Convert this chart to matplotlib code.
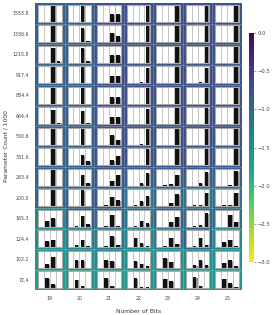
import numpy as np
import matplotlib
matplotlib.use("Agg")
import matplotlib.pyplot as plt
import matplotlib.patheffects as pe

bits = [19, 20, 21, 22, 23, 24, 25]
param_counts = ["1553.8", "1336.6", "1215.8", "917.4", "884.4", "664.4", "500.6",
                "381.6", "283.4", "200.0", "165.3", "124.4", "102.2", "72.4"]

# background value of each cell (rows top -> bottom, cols 19 -> 25)
log_err = [
    [-0.92, -0.92, -0.75, -0.72, -0.74, -0.72, -0.74],
    [-0.92, -0.92, -0.75, -0.72, -0.74, -0.72, -0.74],
    [-0.92, -0.92, -0.75, -0.72, -0.74, -0.72, -0.74],
    [-0.92, -0.92, -0.75, -0.72, -0.74, -0.72, -0.74],
    [-0.92, -0.92, -0.75, -0.72, -0.74, -0.72, -0.74],
    [-0.92, -0.92, -0.75, -0.72, -0.74, -0.72, -0.74],
    [-0.92, -0.92, -0.75, -0.72, -0.74, -0.72, -0.74],
    [-0.92, -0.92, -0.75, -0.74, -0.76, -0.74, -0.76],
    [-0.95, -0.95, -0.80, -0.88, -0.92, -0.86, -0.92],
    [-0.95, -0.95, -0.82, -1.20, -1.05, -1.14, -1.08],
    [-1.38, -0.90, -0.95, -1.14, -0.95, -1.00, -1.02],
    [-1.46, -1.28, -1.16, -1.38, -1.22, -0.90, -1.38],
    [-1.58, -1.52, -1.38, -1.52, -1.52, -1.46, -1.52],
    [-1.68, -1.60, -1.54, -1.60, -1.54, -1.60, -1.60],
]

# share of each of the 4 options in every cell, one list per bit width
probs_19 = [[0, 0, 1, 0], [0, 0, 1, 0], [0, 0, 0.88, 0.1], [0, 0, 1, 0], [0, 0, 1, 0],
            [0, 0, 0.85, 0.1], [0, 0, 1, 0], [0, 0, 1, 0], [0, 0, 1, 0], [0, 0, 1, 0],
            [0, 0.35, 0.5, 0], [0, 0.35, 0.45, 0], [0, 0.22, 0.65, 0], [0, 0.6, 0.25, 0]]
probs_20 = [[0, 0, 1, 0], [0, 0, 0.82, 0.1], [0, 0, 0.85, 0.1], [0, 0, 1, 0], [0, 0, 1, 0],
            [0, 0, 0.8, 0.1], [0, 0, 1, 0], [0, 0, 0.6, 0.25], [0, 0, 0.65, 0.15], [0, 0.03, 0.95, 0],
            [0, 0.03, 0.65, 0.15], [0, 0.15, 0.45, 0.05], [0, 0.45, 0.45, 0], [0, 0.5, 0.15, 0]]
probs_21 = [[0, 0, 0.45, 0.45], [0, 0, 0.56, 0.36], [0, 0, 0.45, 0.45], [0, 0, 0.45, 0.45], [0, 0, 0.4, 0.4],
            [0, 0, 0.45, 0.45], [0, 0, 0.55, 0.3], [0, 0, 0.3, 0.55], [0, 0, 0.3, 0.65], [0, 0.05, 0.55, 0.35],
            [0, 0.05, 0.7, 0.05], [0, 0.05, 0.65, 0.15], [0, 0.45, 0.4, 0], [0, 0.6, 0.15, 0]]
probs_22 = [[0, 0, 0, 1], [0, 0, 0, 1], [0, 0, 0, 1], [0, 0, 0.05, 0.9], [0, 0, 0, 0.95],
            [0, 0, 0.03, 0.92], [0, 0, 0.03, 0.95], [0, 0, 0.03, 0.95], [0, 0, 0.15, 0.75], [0, 0.05, 0.3, 0.6],
            [0.02, 0.05, 0.35, 0.2], [0, 0.55, 0.25, 0.05], [0, 0.4, 0.25, 0.1], [0, 0.6, 0.05, 0.05]]
probs_23 = [[0, 0, 0, 1], [0, 0, 0, 1], [0, 0, 0, 1], [0, 0, 0, 1], [0, 0, 0, 1],
            [0, 0, 0, 1], [0, 0, 0, 1], [0, 0, 0, 1], [0, 0.03, 0.1, 0.65], [0, 0, 0.2, 0.7],
            [0, 0, 0.3, 0.6], [0, 0.05, 0.55, 0.2], [0, 0.55, 0.35, 0], [0, 0.55, 0.4, 0]]
probs_24 = [[0, 0, 0, 1], [0, 0, 0, 1], [0, 0, 0, 1], [0, 0, 0.05, 0.9], [0, 0, 0, 1],
            [0, 0, 0, 0.95], [0, 0, 0, 0.95], [0, 0, 0, 1], [0, 0, 0.15, 0.8], [0, 0.05, 0.1, 0.8],
            [0, 0.05, 0.1, 0.8], [0, 0.05, 0.55, 0.15], [0, 0.15, 0.45, 0.15], [0, 0.65, 0.15, 0]]
probs_25 = [[0, 0, 0, 1], [0, 0, 0, 1], [0, 0, 0, 1], [0, 0, 0, 1], [0, 0, 0, 1],
            [0, 0, 0, 1], [0, 0, 0, 1], [0, 0, 0, 1], [0, 0, 0.03, 0.85], [0, 0.05, 0.1, 0.8],
            [0, 0, 0.7, 0.3], [0, 0.3, 0.45, 0.05], [0, 0.3, 0.45, 0.1], [0, 0.55, 0.3, 0.1]]

probs = np.stack([probs_19, probs_20, probs_21, probs_22, probs_23, probs_24, probs_25], axis=1)
n_rows, n_cols = len(param_counts), len(bits)

fig = plt.figure(figsize=(2.74, 3.15), dpi=100)
ax = fig.add_axes([35 / 274, 25 / 315, 207 / 274, 287 / 315])
im = ax.imshow(np.array(log_err), cmap="viridis_r", vmin=-3, vmax=0, aspect="auto",
               extent=(-0.5, n_cols - 0.5, n_rows - 0.5, -0.5))
for k in range(1, n_cols):
    ax.axvline(k - 0.5, color="white", lw=0.5, alpha=0.3)
for k in range(1, n_rows):
    ax.axhline(k - 0.5, color="white", lw=0.5, alpha=0.3)

ax.set_xticks(range(n_cols))
ax.set_xticklabels(bits, fontsize=3.4, color="#444444")
ax.set_yticks(range(n_rows))
ax.set_yticklabels(param_counts, fontsize=3.4, color="#444444")
ax.tick_params(length=0, pad=4)
ax.set_xlabel("Number of Bits", fontsize=4.3, color="#333333", labelpad=6)
ax.set_ylabel("Parameter Count / 1000", fontsize=4.3, color="#333333", labelpad=3)
for s in ax.spines.values():
    s.set_visible(False)

shadow = [pe.SimplePatchShadow(offset=(0.8, -0.4), shadow_rgbFace="#888888", alpha=0.9), pe.Normal()]
cw, rh = 1 / n_cols, 1 / n_rows
for i in range(n_rows):
    for j in range(n_cols):
        x0 = (j + 0.1) * cw
        y0 = 1 - (i + 1) * rh + 0.08 * rh
        sub = ax.inset_axes([x0, y0, 0.8 * cw, 0.84 * rh])
        sub.bar(range(4), probs[i, j], width=0.6, color="#111111", path_effects=shadow)
        sub.set_xlim(-0.5, 3.5)
        sub.set_ylim(0, 1)
        sub.set_facecolor("white")
        for g in [0.5, 1.5, 2.5]:
            sub.axvline(g, color="#bbbbbb", lw=0.6, zorder=0)
        sub.set_xticks([])
        sub.set_yticks([])
        for s in sub.spines.values():
            s.set_color("#aaaaaa")
            s.set_linewidth(0.8)

cax = fig.add_axes([249 / 274, 53 / 315, 5 / 274, 229 / 315])
cb = fig.colorbar(im, cax=cax, ticks=[0, -0.5, -1, -1.5, -2, -2.5, -3])
cb.outline.set_visible(False)
cb.ax.tick_params(labelsize=3.8, length=1.5, width=0.4, colors="#444444", pad=1)

fig.savefig("out.png", dpi=100)
